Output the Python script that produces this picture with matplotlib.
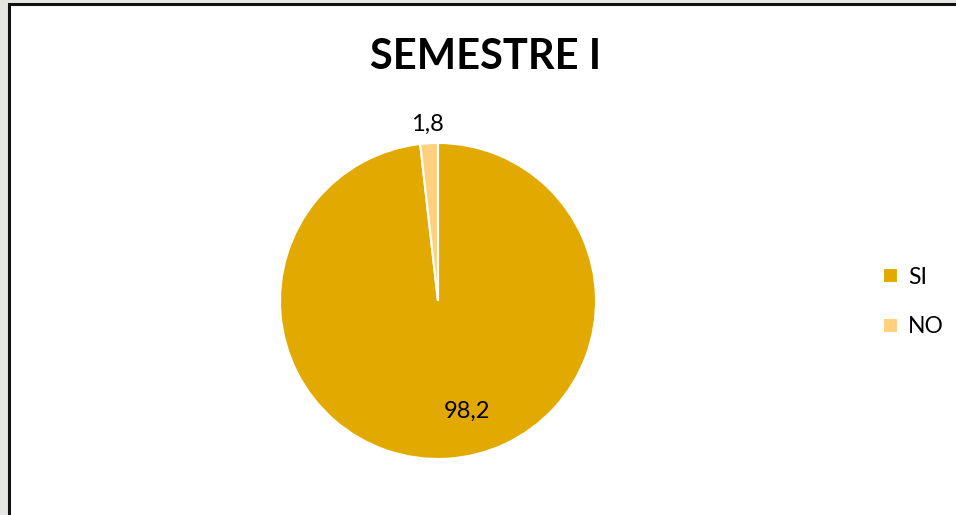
import matplotlib
matplotlib.use("Agg")
import matplotlib.pyplot as plt
from matplotlib.patches import Rectangle

plt.rcParams["font.family"] = ["Lato", "DejaVu Sans"]

TITLE = "SEMESTRE I"
CATEGORIES = ["SI", "NO"]
VALUES = [98.2, 1.8]
VALUE_LABELS = ["98,2", "1,8"]
COLORS = ["#E2AA00", "#FFD17F"]

W, H = 956, 515
fig = plt.figure(figsize=(W / 100, H / 100), dpi=100)
fig.patch.set_facecolor("white")

# grey surround and black frame of the chart area
fig.add_artist(Rectangle((0, 0), 8 / W, 1, transform=fig.transFigure,
                         facecolor="#E6E6E2", edgecolor="none", zorder=0))
fig.add_artist(Rectangle((0, 1 - 3 / H), 1, 3 / H, transform=fig.transFigure,
                         facecolor="#E6E6E2", edgecolor="none", zorder=0))
fig.add_artist(Rectangle((9 / W, -0.01), 1.0, 1 - 4 / H + 0.01, transform=fig.transFigure,
                         facecolor="none", edgecolor="#111111", linewidth=2.2, zorder=5))

cx, cy, r = 438, 301, 158
ax = fig.add_axes([(cx - r) / W, (H - cy - r) / H, 2 * r / W, 2 * r / H])
wedges, _ = ax.pie(VALUES, colors=COLORS, startangle=90, counterclock=False,
                   wedgeprops=dict(edgecolor="white", linewidth=1.5))
ax.set_xlim(-1, 1)
ax.set_ylim(-1, 1)
ax.set_aspect("equal")
ax.axis("off")

# value labels placed like the original
ax.text(0.18, -0.70, VALUE_LABELS[0], ha="center", va="center", fontsize=17)
ax.text(-0.07, 1.12, VALUE_LABELS[1], ha="center", va="center", fontsize=17)

fig.text(486 / W, 1 - 57 / H, TITLE, ha="center", va="center",
         fontsize=30, fontweight="bold")

fig.legend(wedges, CATEGORIES, loc="center left",
           bbox_to_anchor=(862 / W, 1 - 302 / H), frameon=False,
           fontsize=16.5, handlelength=0.65, handleheight=0.65,
           handletextpad=0.45, labelspacing=1.25)

fig.savefig("out.png", dpi=100)
